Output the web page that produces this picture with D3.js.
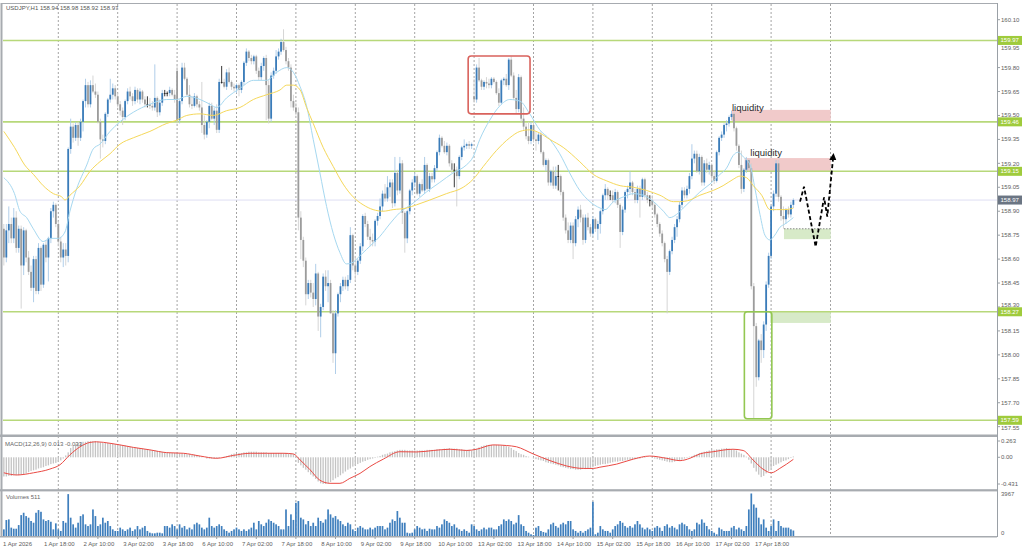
<!DOCTYPE html>
<html><head><meta charset="utf-8">
<script src="https://cdn.jsdelivr.net/npm/d3@7"></script>
<style>body{margin:0;background:#fff;}svg{display:block;}text{font-family:"Liberation Sans",Arial,sans-serif;}</style>
</head><body><svg id="c" width="1024" height="551"></svg>
<script>
const opens=[158.79,158.61,158.78,158.82,158.73,158.86,158.67,158.79,158.56,158.78,
158.61,158.52,158.42,158.60,158.40,158.67,158.44,158.69,158.61,158.73,
158.90,158.94,158.82,158.71,158.61,158.66,158.62,159.29,159.43,159.36,
159.44,159.36,159.46,159.59,159.69,159.57,159.69,159.65,159.63,159.46,
159.35,159.34,159.51,159.60,159.63,159.67,159.62,159.57,159.53,159.49,
159.59,159.65,159.62,159.59,159.66,159.60,159.65,159.60,159.57,159.57,
159.56,159.55,159.61,159.52,159.58,159.64,159.64,159.64,159.66,159.63,
159.78,159.47,159.59,159.80,159.73,159.63,159.57,159.56,159.62,159.57,
159.55,159.44,159.38,159.46,159.56,159.48,159.53,159.41,159.71,159.71,
159.68,159.77,159.71,159.68,159.67,159.69,159.66,159.71,159.83,159.90,
159.86,159.84,159.87,159.78,159.74,159.81,159.86,159.69,159.48,159.75,
159.78,159.87,159.90,159.96,159.91,159.84,159.80,159.59,159.55,159.52,
158.86,158.72,158.59,158.38,158.45,158.39,158.35,158.51,158.24,158.30,
158.49,158.43,158.45,158.26,158.01,158.26,158.38,158.43,158.47,158.43,
158.47,158.75,158.56,158.52,158.59,158.68,158.87,158.82,158.74,158.72,
158.71,158.84,158.87,158.93,159.01,158.98,159.05,159.08,158.95,159.14,
159.03,159.20,158.89,158.73,158.90,159.03,159.08,159.12,159.01,159.07,
159.03,159.19,159.04,159.12,159.10,159.17,159.27,159.36,159.31,159.27,
159.31,159.20,159.16,159.16,159.12,159.24,159.30,159.31,159.32,159.31,
159.62,159.60,159.80,159.72,159.68,159.71,159.70,159.69,159.73,159.71,
159.64,159.58,159.72,159.73,159.69,159.85,159.75,159.61,159.54,159.74,
159.48,159.43,159.37,159.34,159.44,159.35,159.34,159.38,159.27,159.19,
159.22,159.08,159.15,159.06,159.12,159.12,159.02,158.86,158.78,158.72,
158.81,158.70,158.85,158.91,158.86,158.72,158.86,158.80,158.76,158.85,
158.79,158.82,158.90,159.00,159.04,159.00,159.00,158.97,159.02,158.94,
158.77,158.91,159.02,159.04,159.08,159.02,158.97,159.04,158.99,159.10,
159.00,158.97,158.97,158.94,158.88,158.82,158.76,158.70,158.60,158.52,
158.65,158.72,158.80,158.85,158.94,159.03,159.00,159.04,159.12,159.23,
159.26,159.15,159.24,159.08,159.20,159.16,159.19,159.12,159.09,159.27,
159.36,159.38,159.44,159.45,159.49,159.51,159.42,159.31,159.19,159.04,
159.16,159.22,159.17,158.43,158.18,157.86,158.09,158.03,158.19,158.44,
158.62,158.93,159.01,159.20,158.99,158.87,158.85,158.91,158.88,158.94];
const highs=[158.82,158.82,158.93,158.86,158.92,158.90,158.81,158.81,158.80,158.79,
158.65,158.56,158.62,158.62,158.70,158.68,158.70,158.72,158.74,158.92,
158.96,158.95,158.84,158.74,158.70,158.70,159.30,159.48,159.45,159.46,
159.46,159.48,159.60,159.73,159.71,159.72,159.75,159.70,159.65,159.48,
159.38,159.52,159.61,159.73,159.70,159.69,159.64,159.59,159.55,159.60,
159.67,159.68,159.64,159.68,159.67,159.67,159.66,159.62,159.62,159.61,
159.59,159.82,159.62,159.60,159.66,159.66,159.65,159.68,159.67,159.66,
159.82,159.60,159.83,159.83,159.74,159.69,159.62,159.64,159.63,159.59,
159.71,159.50,159.47,159.58,159.58,159.55,159.57,159.73,159.81,159.73,
159.79,159.80,159.72,159.70,159.70,159.70,159.72,159.84,159.92,159.91,
159.88,159.88,159.88,159.80,159.83,159.87,159.88,159.72,159.77,159.80,
159.91,159.92,159.98,160.04,159.93,159.86,159.82,159.63,159.58,159.55,
158.90,158.74,158.61,158.47,158.47,158.45,158.57,158.52,158.32,158.51,
158.53,158.53,158.47,158.28,158.28,158.39,158.45,158.49,158.49,158.50,
158.80,158.76,158.62,158.60,158.70,158.88,158.89,158.84,158.79,158.76,
158.85,158.89,158.98,159.03,159.07,159.12,159.10,159.10,159.24,159.16,
159.24,159.22,158.90,158.91,159.04,159.10,159.14,159.13,159.08,159.10,
159.24,159.20,159.14,159.14,159.19,159.28,159.38,159.37,159.34,159.33,
159.32,159.22,159.20,159.18,159.25,159.31,159.35,159.33,159.34,159.33,
159.73,159.82,159.86,159.73,159.72,159.74,159.73,159.74,159.74,159.72,
159.67,159.73,159.74,159.76,159.86,159.87,159.77,159.66,159.76,159.75,
159.55,159.45,159.46,159.46,159.46,159.40,159.39,159.40,159.28,159.23,
159.23,159.16,159.18,159.18,159.19,159.13,159.03,158.88,158.83,158.83,
158.83,158.87,158.93,158.94,158.88,158.88,158.89,158.82,158.87,158.86,
158.84,158.91,159.01,159.07,159.05,159.03,159.03,159.04,159.03,158.95,
158.93,159.03,159.06,159.15,159.09,159.04,159.06,159.06,159.11,159.11,
159.02,159.00,159.00,158.95,158.89,158.83,158.78,158.71,158.62,158.66,
158.74,158.82,158.87,158.96,159.05,159.05,159.06,159.14,159.32,159.28,
159.28,159.26,159.25,159.22,159.23,159.21,159.20,159.15,159.28,159.37,
159.40,159.45,159.47,159.50,159.53,159.52,159.43,159.32,159.28,159.17,
159.24,159.23,159.20,158.45,158.20,158.10,158.13,158.21,158.46,158.64,
158.94,159.03,159.22,159.22,159.00,158.93,158.92,158.93,158.96,158.98];
const lows=[158.56,158.58,158.70,158.70,158.70,158.64,158.64,158.29,158.50,158.58,
158.50,158.40,158.33,158.38,158.38,158.40,158.42,158.58,158.46,158.70,
158.86,158.80,158.68,158.58,158.55,158.56,158.58,159.26,159.33,159.34,
159.31,159.34,159.40,159.55,159.55,159.55,159.64,159.61,159.45,159.23,
159.30,159.32,159.49,159.58,159.60,159.60,159.55,159.50,159.44,159.47,
159.57,159.60,159.56,159.57,159.58,159.57,159.58,159.55,159.55,159.54,
159.53,159.53,159.49,159.50,159.56,159.62,159.62,159.62,159.62,159.58,
159.45,159.45,159.57,159.72,159.62,159.55,159.54,159.55,159.55,159.53,
159.39,159.35,159.36,159.42,159.47,159.44,159.39,159.39,159.70,159.67,
159.66,159.70,159.66,159.65,159.64,159.62,159.64,159.69,159.81,159.84,
159.82,159.82,159.76,159.72,159.72,159.78,159.47,159.45,159.46,159.73,
159.76,159.85,159.88,159.90,159.82,159.78,159.55,159.53,159.50,158.78,
158.60,158.55,158.31,158.35,158.36,158.30,158.31,158.15,158.11,158.28,
158.40,158.33,158.26,157.95,157.88,158.24,158.33,158.40,158.41,158.40,
158.45,158.53,158.46,158.50,158.57,158.65,158.80,158.72,158.68,158.68,
158.68,158.81,158.85,158.90,158.96,158.96,158.99,158.92,158.93,159.00,
159.01,158.82,158.64,158.70,158.88,159.00,159.05,159.00,158.99,159.02,
159.01,159.03,159.02,159.08,159.08,159.15,159.25,159.30,159.26,159.25,
159.18,159.14,159.05,158.93,159.10,159.22,159.28,159.29,159.29,159.29,
159.58,159.58,159.71,159.66,159.66,159.67,159.67,159.67,159.70,159.63,
159.56,159.57,159.69,159.68,159.66,159.74,159.60,159.51,159.52,159.46,
159.41,159.35,159.32,159.32,159.33,159.28,159.32,159.26,159.18,159.15,
159.06,159.06,159.04,159.04,159.03,159.00,158.84,158.76,158.70,158.70,
158.60,158.68,158.80,158.83,158.69,158.70,158.78,158.74,158.74,158.77,
158.72,158.76,158.88,158.97,158.97,158.97,158.95,158.95,158.92,158.67,
158.75,158.89,158.98,159.01,159.00,158.95,158.95,158.86,158.97,158.98,
158.95,158.93,158.92,158.86,158.80,158.74,158.68,158.58,158.26,158.50,
158.63,158.70,158.74,158.83,158.92,158.98,158.98,159.01,159.10,159.20,
159.14,159.13,159.06,159.06,159.14,159.13,159.09,159.07,159.08,159.25,
159.34,159.36,159.40,159.43,159.47,159.40,159.28,159.17,159.01,159.02,
159.14,159.15,158.41,157.60,157.80,157.84,157.95,157.98,158.15,158.42,
158.60,158.90,158.99,158.96,158.84,158.79,158.82,158.86,158.86,158.92];
const closes=[158.61,158.78,158.82,158.73,158.86,158.67,158.79,158.56,158.78,158.61,
158.52,158.42,158.60,158.40,158.67,158.44,158.69,158.61,158.73,158.90,
158.94,158.82,158.71,158.61,158.66,158.62,159.29,159.43,159.36,159.44,
159.36,159.46,159.59,159.69,159.57,159.69,159.65,159.63,159.46,159.35,
159.34,159.51,159.60,159.63,159.67,159.62,159.57,159.53,159.49,159.59,
159.65,159.62,159.59,159.66,159.60,159.65,159.60,159.57,159.57,159.56,
159.55,159.61,159.52,159.58,159.64,159.64,159.64,159.66,159.63,159.60,
159.47,159.59,159.80,159.73,159.63,159.57,159.56,159.62,159.57,159.55,
159.44,159.38,159.46,159.56,159.48,159.53,159.41,159.71,159.71,159.68,
159.77,159.71,159.68,159.67,159.69,159.66,159.71,159.83,159.90,159.86,
159.84,159.87,159.78,159.74,159.81,159.86,159.69,159.48,159.75,159.78,
159.87,159.90,159.96,159.91,159.84,159.80,159.59,159.55,159.52,158.86,
158.72,158.59,158.38,158.45,158.39,158.35,158.51,158.24,158.30,158.49,
158.43,158.45,158.26,158.01,158.26,158.38,158.43,158.47,158.43,158.47,
158.75,158.56,158.52,158.59,158.68,158.87,158.82,158.74,158.72,158.71,
158.84,158.87,158.93,159.01,158.98,159.05,159.08,158.95,159.14,159.03,
159.20,158.89,158.73,158.90,159.03,159.08,159.12,159.01,159.07,159.03,
159.19,159.04,159.12,159.10,159.17,159.27,159.36,159.31,159.27,159.31,
159.20,159.16,159.16,159.12,159.24,159.30,159.31,159.32,159.31,159.32,
159.60,159.80,159.72,159.68,159.71,159.70,159.69,159.73,159.71,159.64,
159.58,159.72,159.73,159.69,159.85,159.75,159.61,159.54,159.74,159.48,
159.43,159.37,159.34,159.44,159.35,159.34,159.38,159.27,159.19,159.22,
159.08,159.15,159.06,159.12,159.12,159.02,158.86,158.78,158.72,158.81,
158.70,158.85,158.91,158.86,158.72,158.86,158.80,158.76,158.85,158.79,
158.82,158.90,159.00,159.04,159.00,159.00,158.97,159.02,158.94,158.77,
158.91,159.02,159.04,159.08,159.02,158.97,159.04,158.99,159.10,159.00,
158.97,158.97,158.94,158.88,158.82,158.76,158.70,158.60,158.52,158.65,
158.72,158.80,158.85,158.94,159.03,159.00,159.04,159.12,159.23,159.26,
159.15,159.24,159.08,159.20,159.16,159.19,159.12,159.09,159.27,159.36,
159.38,159.44,159.45,159.49,159.51,159.42,159.31,159.19,159.04,159.16,
159.22,159.17,158.43,158.18,157.86,158.09,158.03,158.19,158.44,158.62,
158.93,159.01,159.20,158.99,158.87,158.85,158.91,158.88,158.94,158.97];
const volumes=[620,1490,1550,780,680,680,1020,1950,2170,1860,
1710,1400,1240,2170,2420,2260,1550,1400,1490,1330,
620,1180,620,470,1400,1240,3910,1710,1090,780,
1240,1860,2020,1090,930,1090,2480,1860,930,1090,
1710,1240,1400,930,620,470,470,780,620,470,
620,780,470,620,930,620,780,930,470,310,
250,250,310,310,250,930,930,780,1090,930,
620,1090,780,930,620,780,620,1090,1240,1090,
780,620,780,1710,930,780,930,1090,930,620,
470,310,470,620,780,620,470,620,470,620,
780,1240,620,1400,1090,930,1240,1550,1400,1240,
1090,930,620,620,2480,930,2020,1500,3100,3260,
1710,1550,1090,1400,930,1240,930,1710,1400,1240,
1550,2480,2020,1710,1860,1550,1400,1090,930,1240,
1090,620,470,780,930,780,620,620,780,620,
780,930,930,930,620,780,1240,1550,1400,2330,
1710,1240,1240,310,250,310,620,930,780,620,
680,470,680,620,620,930,780,1090,1550,1400,
1240,930,1090,780,620,470,620,470,310,1090,
930,620,470,620,780,620,780,780,620,620,
930,1090,1550,1400,1550,1400,1090,1240,1950,1090,
930,470,310,160,90,780,930,470,370,310,
620,1090,1240,930,780,1090,1240,1090,1400,1400,
620,470,310,470,310,470,620,780,3190,160,
310,930,620,470,470,310,620,930,1090,1400,
1240,930,780,930,780,1090,1400,1090,780,620,
780,620,470,780,930,780,470,930,1090,780,
930,780,620,1090,1240,1090,930,620,470,620,
1240,1090,1550,1240,930,620,470,310,160,780,
620,470,470,470,780,930,620,780,620,470,
930,2480,3967,2950,2640,1710,1090,1550,780,470,
930,1550,470,1400,930,780,780,780,620,511];
const macdHist=[-0.31,-0.31,-0.30,-0.30,-0.29,-0.29,-0.29,-0.28,-0.27,-0.26,
-0.24,-0.22,-0.21,-0.20,-0.18,-0.17,-0.16,-0.14,-0.13,-0.11,
-0.10,-0.09,-0.07,-0.05,-0.02,0.03,0.08,0.15,0.18,0.21,
0.23,0.24,0.25,0.25,0.26,0.26,0.26,0.26,0.25,0.24,
0.23,0.23,0.23,0.22,0.22,0.21,0.21,0.20,0.19,0.19,
0.18,0.17,0.16,0.16,0.15,0.15,0.14,0.13,0.13,0.12,
0.11,0.11,0.10,0.10,0.09,0.08,0.08,0.07,0.07,0.07,
0.06,0.06,0.06,0.06,0.05,0.05,0.04,0.04,0.03,0.02,
0.01,0.00,-0.02,-0.02,-0.02,-0.02,-0.02,-0.01,0.00,0.01,
0.02,0.03,0.05,0.06,0.06,0.07,0.07,0.08,0.08,0.09,
0.09,0.09,0.09,0.08,0.08,0.08,0.08,0.07,0.07,0.07,
0.07,0.07,0.07,0.07,0.07,0.06,0.06,0.05,0.01,-0.09,
-0.13,-0.17,-0.20,-0.24,-0.28,-0.31,-0.35,-0.39,-0.42,-0.43,
-0.43,-0.42,-0.40,-0.37,-0.34,-0.32,-0.29,-0.26,-0.23,-0.20,
-0.18,-0.15,-0.13,-0.11,-0.09,-0.07,-0.06,-0.04,-0.03,-0.02,
-0.01,0.01,0.02,0.04,0.05,0.06,0.08,0.09,0.10,0.11,
0.12,0.12,0.12,0.11,0.11,0.11,0.11,0.11,0.11,0.11,
0.11,0.12,0.12,0.12,0.12,0.13,0.13,0.13,0.14,0.14,
0.15,0.14,0.14,0.14,0.13,0.13,0.12,0.12,0.12,0.11,
0.12,0.14,0.16,0.18,0.19,0.20,0.20,0.20,0.20,0.20,
0.20,0.19,0.19,0.18,0.17,0.15,0.12,0.10,0.07,0.05,
0.04,0.02,0.01,0.00,-0.02,-0.03,-0.04,-0.05,-0.06,-0.08,
-0.09,-0.10,-0.11,-0.12,-0.13,-0.15,-0.16,-0.17,-0.18,-0.19,
-0.19,-0.20,-0.20,-0.20,-0.19,-0.19,-0.18,-0.17,-0.16,-0.14,
-0.13,-0.12,-0.11,-0.11,-0.10,-0.09,-0.08,-0.07,-0.07,-0.06,
-0.06,-0.05,-0.04,-0.04,-0.03,-0.03,-0.02,-0.02,-0.01,-0.01,
0.00,0.00,-0.01,-0.02,-0.03,-0.04,-0.05,-0.06,-0.07,-0.08,
-0.08,-0.07,-0.06,-0.05,-0.04,-0.02,-0.01,0.01,0.02,0.04,
0.05,0.07,0.08,0.09,0.10,0.11,0.12,0.12,0.13,0.13,
0.14,0.14,0.15,0.14,0.13,0.12,0.11,0.08,0.06,0.04,
0.01,-0.04,-0.10,-0.17,-0.23,-0.28,-0.32,-0.30,-0.26,-0.22,
-0.17,-0.14,-0.12,-0.10,-0.08,-0.06,-0.05,-0.03,-0.01,0.013];
const signalBars=[0,5.2,12,18.6,22.7,26.7,30.8,34.8,37.5,42.9,46.9,52.3,59,65.8,72.5,79.3,86,92.7,99.5,106.2,112.9,117,119.7,123.7,127.7,131.8,135.8,139.8,143.9,147.9,153.3,160,166.8,173.5,180.3,187,191,197.7,203.1,207.1,213.9,220.7,227.4,234.1,238.2,240.8,247.6,254.3,261,267.7,273.2,277.2,281.2,286.6,294.6,298.7,302.7,306.7,310.1,313.5,319];
const signalVals=[-0.25,-0.285,-0.25,-0.19,-0.12,0.04,0.17,0.24,0.25,0.226,0.20,0.16,0.12,0.075,0.065,0.02,-0.016,0.03,0.065,0.065,0.065,0.054,-0.043,-0.20,-0.37,-0.42,-0.42,-0.34,-0.26,-0.15,-0.03,0.09,0.086,0.11,0.13,0.11,0.13,0.20,0.19,0.17,0.054,-0.054,-0.14,-0.18,-0.18,-0.16,-0.11,-0.03,0.02,-0.016,-0.054,-0.016,0.054,0.09,0.13,0.11,-0.043,-0.19,-0.25,-0.18,-0.033];
const fastMABars=[0,4.3,6.5,9.2,11.9,15.9,18.6,22,24.7,26.7,29.4,33.5,36.1,38.8,42.9,46.9,52.3,59,65.8,69.8,73.9,79.3,83.3,86,90,95.4,100.8,106.2,110.2,114.3,117,119.7,122.3,125,127.7,130.4,133.1,135.8,138.4,141.1,143.8,146.5,149.2,151.8,155.9,159.9,165.3,170.7,176.1,181.5,186.9,189.6,192.3,196.3,200.4,204.4,208.5,212.5,216.5,220.6,224.6,228.6,232.7,236.8,240.9,242.9,246.3,250.4,254.4,258.4,262.5,266.5,269.1,271.8,274.5,277.2,281.2,285.3,289.3,292,294.7,296.7,298.8,301.5,303.5,305.5,307.5,309.5,311.5,313.6,315.6,319];
const fastMAVals=[159.11,159.01,158.90,158.86,158.79,158.71,158.73,158.73,158.77,158.90,159.04,159.19,159.29,159.32,159.40,159.46,159.52,159.57,159.60,159.60,159.62,159.60,159.57,159.55,159.61,159.67,159.72,159.72,159.77,159.80,159.77,159.68,159.56,159.35,159.14,158.93,158.76,158.64,158.57,158.58,158.62,158.66,158.70,158.74,158.82,158.89,158.95,159.02,159.08,159.14,159.19,159.24,159.35,159.47,159.56,159.60,159.59,159.51,159.41,159.35,159.26,159.14,159.03,158.96,158.92,158.91,158.96,158.99,159.01,159.00,158.96,158.90,158.86,158.88,158.92,158.96,159.02,159.07,159.13,159.17,159.25,159.27,159.24,159.19,159.04,158.88,158.75,158.72,158.75,158.80,158.82,158.86];
const slowMABars=[0,4.3,8.4,12,15.9,20,23.4,24.7,26.7,30.8,34.8,38.8,42.9,46.9,52.3,59,65.8,69.8,73.9,79.3,84.6,90,95.4,100.8,106.2,111.6,114.3,117,119.7,122.3,125,129,133.1,137.1,141.1,145.2,149.2,153.2,157.3,162.7,166.7,172.1,178.8,185.6,189.6,193.7,199,204.4,208.5,212.5,216.5,220.6,226,232.7,238.2,243.6,249,254.4,259.7,265.1,270.5,273.1,277.2,281.2,286.6,290.6,294.7,297.4,300.1,302.8,306.2,309.5,312.2,315.6,319];
const slowMAVals=[159.40,159.30,159.19,159.13,159.06,159.01,158.99,158.97,159.00,159.06,159.15,159.21,159.26,159.32,159.36,159.40,159.45,159.47,159.50,159.51,159.50,159.53,159.55,159.60,159.63,159.66,159.69,159.69,159.66,159.55,159.45,159.30,159.18,159.07,158.99,158.94,158.91,158.90,158.91,158.92,158.94,158.97,159.01,159.05,159.10,159.18,159.28,159.36,159.40,159.41,159.39,159.35,159.30,159.21,159.13,159.09,159.06,159.05,159.03,159.00,158.96,158.96,158.97,159.00,159.03,159.06,159.10,159.12,159.11,159.06,159.00,158.91,158.91,158.91,158.92];
const priceTicks=[160.10,159.95,159.80,159.65,159.50,159.35,159.20,159.05,158.90,158.75,158.60,158.45,158.30,158.15,158.00,157.85,157.70,157.55];
const levelPrices=[159.97,159.46,159.15,158.27,157.59];
const currentPrice=158.97;
const timeLabels=["1 Apr 18:00","2 Apr 10:00","3 Apr 02:00","3 Apr 18:00","6 Apr 10:00","7 Apr 02:00","7 Apr 18:00","8 Apr 10:00","9 Apr 02:00","9 Apr 18:00","10 Apr 10:00","13 Apr 02:00","13 Apr 18:00","14 Apr 10:00","15 Apr 02:00","15 Apr 18:00","16 Apr 10:00","17 Apr 02:00","17 Apr 18:00"];
const timeLabelBars=[22,38,54,70,86,102,118,134,150,166,182,198,214,230,246,262,278,294,310];
const gridBars=[22,46,70,94,118,142,166,190,214,238,262,286,310,334];
const zoneStart=[294.1,299.3,315.2,309.6];
const zoneEnd=[334.1,334.1,334.1,334.1];
const zoneLow=[159.46,159.15,158.725,158.20];
const zoneHigh=[159.535,159.233,158.79,158.27];
const zoneKind=["sell","sell","buy","buy"];
const boxStart=[187.6,299.2], boxEnd=[212.6,310.3], boxLow=[159.51,157.60], boxHigh=[159.873,158.27], boxKind=["red","green"];
const arrowBars=[321.7,323.3,328,331.4,332.7,335.1];
const arrowPrices=[158.96,159.054,158.678,158.987,158.866,159.242];
const noteBars=[294.2,301.6], notePrices=[159.527,159.247], noteTexts=["liquidity","liquidity"];

const svg=d3.select("#c");
const N=closes.length;
const x=d3.scaleLinear().domain([0,400]).range([3.85,3.85+400*2.475]);
const y=d3.scaleLinear().domain([157.55,160.10]).range([426.68,19.7]);
const yM=d3.scaleLinear().domain([-0.431,0.263]).range([484,441]);
const yV=d3.scaleLinear().domain([0,3967]).range([536,493.5]);
const R=997;
const defs=svg.append("defs");
[["cm",3,4,R-3,430],["cd",3,437,R-3,52],["cv",3,491,R-3,45]].forEach(([id,a,b,w,h])=>{
  defs.append("clipPath").attr("id",id).append("rect").attr("x",a).attr("y",b).attr("width",w).attr("height",h);});
defs.append("marker").attr("id","ah").attr("viewBox","0 0 10 10").attr("refX",5).attr("refY",5)
  .attr("markerWidth",4).attr("markerHeight",4).attr("orient","auto")
  .append("path").attr("d","M0,0 L10,5 L0,10 z").attr("fill","#000");

// grid
svg.append("g").selectAll("line").data(gridBars).join("line")
  .attr("x1",d=>x(d)).attr("x2",d=>x(d)).attr("y1",4).attr("y2",536)
  .attr("stroke","#a4a4a4").attr("stroke-width",1).attr("stroke-dasharray","2,2");

const gm=svg.append("g").attr("clip-path","url(#cm)");
const zi=d3.range(zoneStart.length);
gm.selectAll("rect.z").data(zi).join("rect")
  .attr("x",i=>x(zoneStart[i])).attr("width",i=>x(zoneEnd[i])-x(zoneStart[i]))
  .attr("y",i=>y(zoneHigh[i])).attr("height",i=>y(zoneLow[i])-y(zoneHigh[i]))
  .attr("fill",i=>zoneKind[i]==="sell"?"#f1caca":"#d7eac8");
gm.append("line").attr("x1",x(zoneStart[2])).attr("x2",x(zoneEnd[2])).attr("y1",y(zoneHigh[2])).attr("y2",y(zoneHigh[2]))
  .attr("stroke","#8a8a8a").attr("stroke-width",1).attr("stroke-dasharray","1.5,1.5");
gm.selectAll("line.lv").data(levelPrices).join("line")
  .attr("x1",3).attr("x2",R).attr("y1",d=>y(d)).attr("y2",d=>y(d))
  .attr("stroke","#b7d87a").attr("stroke-width",1.6);
gm.append("line").attr("x1",3).attr("x2",R).attr("y1",y(currentPrice)).attr("y2",y(currentPrice))
  .attr("stroke","#dedef3").attr("stroke-width",1);

const idx=d3.range(N);
const dir=i=>closes[i]>opens[i]?1:(closes[i]<opens[i]?-1:0);
gm.selectAll("line.w").data(idx).join("line")
  .attr("x1",i=>x(i)).attr("x2",i=>x(i)).attr("y1",i=>y(highs[i])).attr("y2",i=>y(lows[i]))
  .attr("stroke",i=>dir(i)>0?"#a8c8e6":dir(i)<0?"#d0d0d0":"#222").attr("stroke-width",0.9);
gm.selectAll("rect.b").data(idx).join("rect")
  .attr("x",i=>x(i)-0.9).attr("width",1.8)
  .attr("y",i=>y(Math.max(opens[i],closes[i])))
  .attr("height",i=>Math.max(0.9,Math.abs(y(opens[i])-y(closes[i]))))
  .attr("fill",i=>dir(i)>0?"#3b7cb9":dir(i)<0?"#9c9c9c":"#222");

const line=d3.line().curve(d3.curveMonotoneX);
gm.append("path").attr("d",line(fastMABars.map((b,i)=>[x(b),y(fastMAVals[i])])))
  .attr("fill","none").attr("stroke","#a6d8f0").attr("stroke-width",1);
gm.append("path").attr("d",line(slowMABars.map((b,i)=>[x(b),y(slowMAVals[i])])))
  .attr("fill","none").attr("stroke","#f5d85a").attr("stroke-width",1);

const bi=d3.range(boxStart.length);
svg.selectAll("rect.bx").data(bi).join("rect")
  .attr("x",i=>x(boxStart[i])).attr("width",i=>x(boxEnd[i])-x(boxStart[i]))
  .attr("y",i=>y(boxHigh[i])).attr("height",i=>y(boxLow[i])-y(boxHigh[i]))
  .attr("rx",3).attr("fill","none").attr("stroke-width",1.6)
  .attr("stroke",i=>boxKind[i]==="red"?"#d9625c":"#93c752");
svg.append("path").attr("d",d3.line()(arrowBars.map((b,i)=>[x(b),y(arrowPrices[i])])))
  .attr("fill","none").attr("stroke","#000").attr("stroke-width",1.8).attr("stroke-dasharray","4,2.5")
  .attr("marker-end","url(#ah)");
svg.selectAll("text.n").data(d3.range(noteTexts.length)).join("text")
  .attr("x",i=>x(noteBars[i])).attr("y",i=>y(notePrices[i])).text(i=>noteTexts[i])
  .attr("font-size",9.5).attr("fill","#2a2a2a");

const gd=svg.append("g").attr("clip-path","url(#cd)");
gd.selectAll("rect").data(idx).join("rect")
  .attr("x",i=>x(i)-0.65).attr("width",1.3)
  .attr("y",i=>Math.min(yM(0),yM(macdHist[i]))).attr("height",i=>Math.abs(yM(macdHist[i])-yM(0)))
  .attr("fill","#c4c4c4");
gd.append("path").attr("d",line(signalBars.map((b,i)=>[x(b),yM(signalVals[i])])))
  .attr("fill","none").attr("stroke","#ea4a44").attr("stroke-width",1);

const gv=svg.append("g").attr("clip-path","url(#cv)");
gv.selectAll("rect").data(idx).join("rect")
  .attr("x",i=>x(i)-0.85).attr("width",1.7)
  .attr("y",i=>yV(volumes[i])).attr("height",i=>yV(0)-yV(volumes[i]))
  .attr("fill","#3f7fbd");

svg.append("rect").attr("x",0).attr("y",434.5).attr("width",R).attr("height",2.5).attr("fill","#a7abb0");
svg.append("rect").attr("x",0).attr("y",489.2).attr("width",R).attr("height",2.2).attr("fill","#a7abb0");
svg.append("line").attr("x1",0).attr("x2",R).attr("y1",536.8).attr("y2",536.8).attr("stroke","#a7abb0").attr("stroke-width",1.5);
svg.append("line").attr("x1",2).attr("x2",R).attr("y1",3.5).attr("y2",3.5).attr("stroke","#a7abb0").attr("stroke-width",1);
svg.append("line").attr("x1",1.5).attr("x2",1.5).attr("y1",3).attr("y2",537).attr("stroke","#a7abb0").attr("stroke-width",2);
svg.append("line").attr("x1",R+0.5).attr("x2",R+0.5).attr("y1",3).attr("y2",537).attr("stroke","#9aa0a6").attr("stroke-width",1);

// price axis: tick labels that would sit under a level box are nudged just outside it
const ax=svg.append("g").attr("font-size",6).attr("fill","#5e5e5e");
const boxYs=levelPrices.concat([currentPrice]).map(p=>y(p));
priceTicks.forEach(p=>{
  const ty=y(p);
  ax.append("line").attr("x1",R).attr("x2",R+3).attr("y1",ty).attr("y2",ty).attr("stroke","#9aa0a6");
  let base=ty+2;
  boxYs.forEach(by=>{
    if(Math.abs(by-ty)<9){ base = ty>by ? by+4.5+5 : by-4.5-0.6; }
  });
  ax.append("text").attr("x",R+4).attr("y",base).text(p.toFixed(2));
});
levelPrices.forEach(p=>{
  ax.append("rect").attr("x",R+1).attr("y",y(p)-4.5).attr("width",24).attr("height",9).attr("fill","#9fcb3c");
  ax.append("text").attr("x",R+3.5).attr("y",y(p)+2).attr("fill","#fff").text(p.toFixed(2));
});
ax.append("rect").attr("x",R+1).attr("y",y(currentPrice)-4.5).attr("width",24).attr("height",9).attr("fill","#6b7583");
ax.append("text").attr("x",R+3.5).attr("y",y(currentPrice)+2).attr("fill","#fff").text(currentPrice.toFixed(2));
[[0.263,"0.263"],[0,"0.00"],[-0.431,"-0.431"]].forEach(([v,t])=>{
  ax.append("line").attr("x1",R).attr("x2",R+3).attr("y1",yM(v)).attr("y2",yM(v)).attr("stroke","#9aa0a6");
  ax.append("text").attr("x",R+4).attr("y",yM(v)+2).text(t);
});
ax.append("text").attr("x",R+4).attr("y",495.5).text("3967");
ax.append("text").attr("x",R+4).attr("y",535).text("0");

const tx=svg.append("g").attr("font-size",6).attr("fill","#5e5e5e");
tx.append("text").attr("x",3).attr("y",546).text("1 Apr 2026");
timeLabels.forEach((t,i)=>{
  tx.append("text").attr("x",x(timeLabelBars[i])+1).attr("y",546).attr("text-anchor","middle").text(t);
  tx.append("line").attr("x1",x(timeLabelBars[i])).attr("x2",x(timeLabelBars[i])).attr("y1",537).attr("y2",539).attr("stroke","#9aa0a6");
});

svg.append("text").attr("x",6).attr("y",10).attr("font-size",6).attr("fill","#555")
  .text("USDJPY,H1  158.94 158.98 158.92 158.97");
svg.append("text").attr("x",5).attr("y",445.5).attr("font-size",6).attr("fill","#666")
  .text("MACD(12,26,9) 0.013 -0.033");
svg.append("text").attr("x",6).attr("y",498.5).attr("font-size",6).attr("fill","#666")
  .text("Volumes 511");
</script></body></html>
